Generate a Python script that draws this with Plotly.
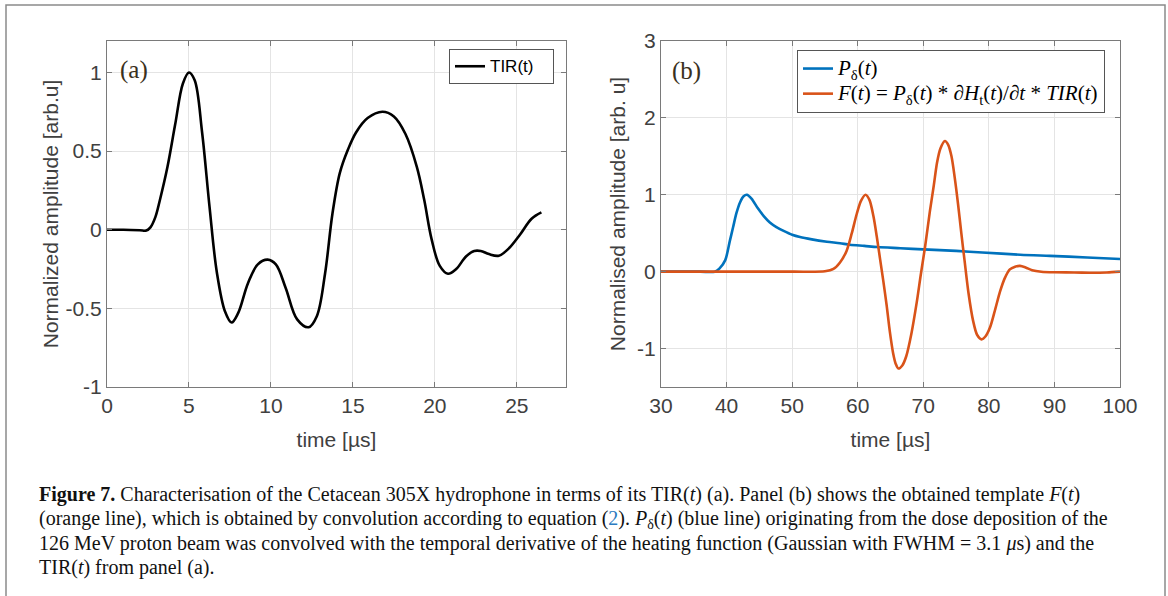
import plotly.graph_objects as go

# panel (a): transducer impulse response
t_tir = [0, 1.0, 2.0, 2.4, 2.65, 2.95, 3.22, 3.69, 4.16, 4.63, 5.0, 5.35, 5.8, 6.25, 6.7,
         7.2, 7.6, 8.0, 8.6, 9.2, 9.8, 10.3, 10.9, 11.6, 12.3, 12.8, 13.3, 13.75, 14.2,
         14.7, 15.2, 15.9, 16.8, 17.5, 18.2, 18.9, 19.35, 19.8, 20.3, 20.8, 21.3, 21.9,
         22.4, 22.8, 23.3, 23.9, 24.5, 25.2, 25.9, 26.5]
tir = [0, 0, -0.003, -0.005, 0.015, 0.08, 0.186, 0.40, 0.67, 0.93, 1.0, 0.95, 0.62, 0.15,
       -0.27, -0.52, -0.59, -0.53, -0.34, -0.22, -0.19, -0.22, -0.37, -0.57, -0.62, -0.55,
       -0.28, 0.10, 0.36, 0.51, 0.62, 0.71, 0.75, 0.72, 0.61, 0.40, 0.19, -0.06, -0.23,
       -0.28, -0.25, -0.17, -0.135, -0.135, -0.155, -0.165, -0.12, -0.03, 0.07, 0.11]

# panel (b): pressure pulse P_delta(t)
t_p = [30, 36, 38.2, 38.9, 39.8, 40.5, 41.0, 41.5, 42.05, 42.6, 43.1, 43.8, 44.8, 45.7,
       46.6, 47.6, 48.7, 50.0, 51.2, 53.0, 55.3, 57.3, 58.8, 61, 63, 66.5, 70, 75, 79,
       84.8, 89.3, 95, 100]
p_delta = [0, 0, 0.0, 0.04, 0.15, 0.40, 0.58, 0.76, 0.90, 0.98, 1.0, 0.95, 0.82, 0.72,
           0.64, 0.58, 0.53, 0.48, 0.45, 0.42, 0.39, 0.37, 0.35, 0.335, 0.32, 0.305, 0.29,
           0.27, 0.25, 0.22, 0.205, 0.185, 0.165]

# panel (b): template F(t)
t_f = [30, 50, 55, 56.3, 57.3, 58.3, 59.1, 59.85, 60.5, 61.2, 61.8, 62.4, 62.9, 63.4, 63.9,
       64.4, 64.9, 65.4, 65.8, 66.2, 66.8, 67.4, 68.2, 69.0, 69.6, 70.3, 71.0, 71.6, 72.1,
       72.6, 73.3, 73.8, 74.3, 74.8, 75.3, 75.8, 76.3, 76.9, 77.6, 78.2, 78.9, 79.5, 80.2,
       81.0, 81.7, 82.4, 83.2, 84.0, 84.75, 85.6, 86.6, 88, 90, 93, 96, 98, 100]
f_vals = [0, 0, 0.005, 0.035, 0.12, 0.27, 0.50, 0.75, 0.92, 1.0, 0.93, 0.72, 0.46, 0.17,
          -0.12, -0.43, -0.78, -1.06, -1.2, -1.26, -1.22, -1.1, -0.80, -0.40, -0.05, 0.34,
          0.78, 1.12, 1.42, 1.60, 1.70, 1.65, 1.50, 1.22, 0.88, 0.50, 0.14, -0.28, -0.64,
          -0.82, -0.88, -0.84, -0.72, -0.48, -0.26, -0.09, 0.03, 0.065, 0.075, 0.055, 0.02,
          0.0, -0.008, -0.01, -0.015, -0.01, 0.0]

a_yticks = [-1, -0.5, 0, 0.5, 1]
a_yticktext = ["-1", "-0.5", "0", "0.5", "1"]
b_yticks = [-1, 0, 1, 2, 3]
b_yticktext = ["-1", "0", "1", "2", "3"]

W, H = 1168, 596
def px(x):
    return x / W
def py(y):
    return 1 - y / H

sans = "Liberation Sans"
serif = "Liberation Serif"

def big(txt, size):
    # glyph size bigger than the legend's line height
    return "<span style='font-size:%dpx'>%s</span>" % (size, txt)

fig = go.Figure()
fig.add_trace(go.Scatter(x=t_tir, y=tir, mode="lines",
                         name=big("TIR(t)&nbsp;&nbsp;&nbsp;", 17),
                         line=dict(color="black", width=2.6, shape="spline", smoothing=1),
                         xaxis="x", yaxis="y", legend="legend"))
fig.add_trace(go.Scatter(x=t_p, y=p_delta, mode="lines",
                         name=big("<i>P</i><sub>δ</sub>(<i>t</i>)", 21),
                         line=dict(color="#0072BD", width=2.6, shape="spline", smoothing=0.8),
                         xaxis="x2", yaxis="y2", legend="legend2"))
fig.add_trace(go.Scatter(x=t_f, y=f_vals, mode="lines",
                         name=big("<i>F</i>(<i>t</i>) = <i>P</i><sub>δ</sub>(<i>t</i>) * "
                                  "∂<i>H</i><sub>t</sub>(<i>t</i>)/∂<i>t</i> * "
                                  "<i>TIR</i>(<i>t</i>)", 21),
                         line=dict(color="#D95319", width=2.6, shape="spline", smoothing=0.8),
                         xaxis="x2", yaxis="y2", legend="legend2"))

axis_common = dict(showline=True, linecolor="#7a7a7a", linewidth=1, mirror="ticks",
                   ticks="inside", ticklen=5, tickcolor="#7a7a7a",
                   showgrid=True, gridcolor="#e4e4e4", gridwidth=1, zeroline=False,
                   tickfont=dict(family=sans, size=21, color="#404040"))
title_font = dict(family=sans, size=21, color="#404040")

fig.update_layout(
    autosize=True,
    margin=dict(l=0, r=0, t=0, b=0, autoexpand=False),
    paper_bgcolor="white", plot_bgcolor="white",
    xaxis=dict(domain=[px(107), px(566)], range=[0, 28], tickvals=[0, 5, 10, 15, 20, 25],
               title=dict(text="time [µs]", font=title_font, standoff=16),
               anchor="y", **axis_common),
    yaxis=dict(domain=[py(387), py(41)], range=[-1, 1.2], tickvals=a_yticks,
               ticktext=a_yticktext,
               title=dict(text="Normalized amplitude [arb.u]", font=title_font, standoff=1),
               anchor="x", **axis_common),
    xaxis2=dict(domain=[px(661), px(1120)], range=[30, 100],
                tickvals=[30, 40, 50, 60, 70, 80, 90, 100],
                title=dict(text="time [µs]", font=title_font, standoff=16),
                anchor="y2", **axis_common),
    yaxis2=dict(domain=[py(387), py(41)], range=[-1.5, 3], tickvals=b_yticks,
                ticktext=b_yticktext,
                title=dict(text="Normalised amplitude [arb. u]", font=title_font, standoff=5),
                anchor="x2", **axis_common),
    legend=dict(x=px(554), y=py(49), xanchor="right", yanchor="top",
                bgcolor="white", bordercolor="#555555", borderwidth=1,
                font=dict(family=sans, size=15, color="black"),
                itemwidth=30, tracegroupgap=0),
    legend2=dict(x=px(1105), y=py(50), xanchor="right", yanchor="top",
                 bgcolor="white", bordercolor="#555555", borderwidth=1,
                 font=dict(family=serif, size=17, color="black"),
                 itemwidth=30, tracegroupgap=0),
    showlegend=True,
)

# panel letters
fig.add_annotation(text="(a)", x=0.025, y=0.915, xref="x domain", yref="y domain",
                   xanchor="left", yanchor="middle", showarrow=False,
                   font=dict(family=serif, size=25, color="#3a3020"))
fig.add_annotation(text="(b)", x=0.02, y=0.912, xref="x2 domain", yref="y2 domain",
                   xanchor="left", yanchor="middle", showarrow=False,
                   font=dict(family=serif, size=25, color="#3a3020"))

# caption
cap_lines = [
    "<b>Figure 7.</b> Characterisation of the Cetacean 305X hydrophone in terms of its TIR(<i>t</i>) (a). "
    "Panel (b) shows the obtained template <i>F</i>(<i>t</i>)",
    "(orange line), which is obtained by convolution according to equation "
    "(<span style='color:#2b7bc0'>2</span>). <i>P</i><sub>δ</sub>(<i>t</i>) (blue line) "
    "originating from the dose deposition of the",
    "126 MeV proton beam was convolved with the temporal derivative of the heating function "
    "(Gaussian with FWHM = 3.1 <i>μ</i>s) and the",
    "TIR(<i>t</i>) from panel (a).",
]
cap_y = [494, 519, 543, 567]
for txt, yy in zip(cap_lines, cap_y):
    fig.add_annotation(text=txt, x=px(37), y=py(yy), xref="paper", yref="paper",
                       xanchor="left", yanchor="middle", showarrow=False, align="left",
                       font=dict(family=serif, size=20, color="#111111"))

# outer frame
fig.add_shape(type="rect", xref="paper", yref="paper", x0=px(6), x1=px(1165),
              y0=py(605), y1=py(5), line=dict(color="#8a8a8a", width=1.5))

# let the graph fill the whole window
fill_window = """
var gd = document.getElementById('{plot_id}');
document.documentElement.style.margin = '0';
document.body.style.margin = '0';
document.body.style.padding = '0';
gd.style.position = 'fixed';
gd.style.left = '0px';
gd.style.top = '0px';
gd.style.width = '100vw';
gd.style.height = '100vh';
Plotly.Plots.resize(gd);
"""

fig.write_html("out.html", post_script=fill_window, config={"displayModeBar": False})
